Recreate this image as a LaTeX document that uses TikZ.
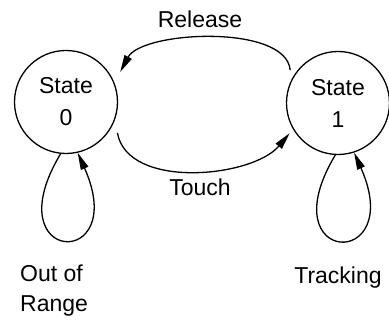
\documentclass[tikz,border=0pt]{standalone}
\usepackage{fontspec}
\setmainfont{Liberation Sans}
\usetikzlibrary{arrows.meta}
\tikzset{
  state/.style={draw, circle, line width=1.3pt, minimum size=103pt, inner sep=0pt, align=center},
  trans/.style={line width=1.3pt, -{Triangle[length=17pt,width=8pt]}},
  lbl/.style={inner sep=0pt, anchor=base}
}
\begin{document}
\begin{tikzpicture}[x=10pt,y=10pt,font=\fontsize{23}{32}\selectfont]
            \useasboundingbox (0,0) rectangle (38.9,32);
            \node[state] (s0) at (6.6,21.8) {State\\0};
            \node[state] (s1) at (33.8,21.7) {State\\1};
            \draw[trans] ([shift={(145.5:5.8)}]s1.center) to[out=95,in=62,looseness=0.7] ([shift={(29:6.2)}]s0.center);   %release
            \draw[trans] ([shift={(-31:6.0)}]s0.center) to[out=-80,in=230,looseness=0.86] ([shift={(212:5.7)}]s1.center);  %touch
            \draw[trans] (s0.-96) .. controls +(-121:13) and +(-66:13) .. (s0.-77);
            \draw[trans] (s1.-93) .. controls +(-121:13) and +(-66:13) .. (s1.-72);
            \node[lbl] (rel) at (20.0,29.2) {Release};
            \node[lbl] (tch) at (20.0,12.4) {Touch};
            \node[lbl, anchor=base west, align=left, font=\fontsize{23}{30}\selectfont] (oor) at (2.0,0.85) {Out of\\Range};
            \node[lbl] (trk) at (33.8,3.6) {Tracking};
\end{tikzpicture}
\end{document}
